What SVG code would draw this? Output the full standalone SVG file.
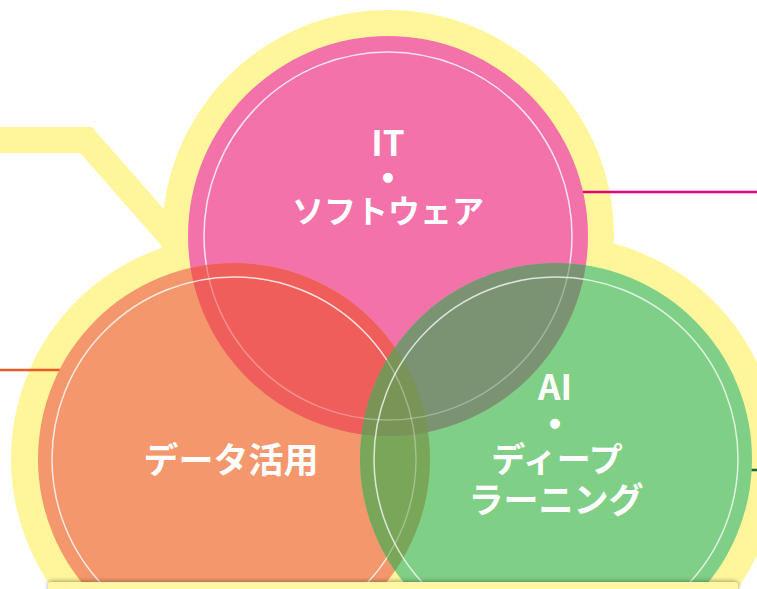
<svg xmlns="http://www.w3.org/2000/svg" width="757" height="589" viewBox="0 0 757 589">
<style>
.y{fill:#fff59b}
.ring{fill:none;stroke:#ffffff;stroke-width:1.5}
.full{stroke-opacity:0.8}
.faint{stroke-opacity:0.3}
.t{font-family:"Noto Sans CJK JP","Noto Sans",sans-serif;font-weight:bold;fill:#ffffff;text-anchor:middle}
.d{font-family:"DejaVu Sans",sans-serif;fill:#ffffff;text-anchor:middle}
</style>
<defs>
<clipPath id="co"><circle cx="234" cy="459" r="196"/></clipPath>
<clipPath id="cg"><circle cx="556" cy="459" r="196"/></clipPath>
<filter id="sh" x="-5%" y="-100%" width="110%" height="300%">
<feDropShadow dx="0" dy="-1" stdDeviation="2" flood-color="#000" flood-opacity="0.35"/>
</filter>
</defs>
<g id="background">
<polyline points="0,140 86,140 172,238" fill="none" stroke="#fff59b" stroke-width="26" stroke-linejoin="miter"/>
<circle class="y" cx="388" cy="236" r="226"/>
<circle class="y" cx="234" cy="459" r="223"/>
<circle class="y" cx="556" cy="459" r="223"/>
</g>
<g id="connectors">
<line x1="480" y1="192" x2="757" y2="192" stroke="#e5007f" stroke-width="2.5"/>
<line x1="0" y1="370" x2="120" y2="370" stroke="#ea5a24" stroke-width="2.5"/>
<line x1="700" y1="470" x2="757" y2="470" stroke="#17693a" stroke-width="2.5"/>
</g>
<g id="it-software">
<circle cx="388" cy="236" r="200" fill="#f372aa"/>
<circle class="ring full" cx="388" cy="236" r="184"/>
</g>
<g id="data">
<circle cx="234" cy="459" r="196" fill="#f5976c"/>
<circle cx="388" cy="236" r="200" fill="#ef5e5a" clip-path="url(#co)"/>
<circle class="ring faint" cx="388" cy="236" r="184" clip-path="url(#co)"/>
<circle class="ring full" cx="234" cy="459" r="182"/>
</g>
<g id="ai-deep-learning">
<circle cx="556" cy="459" r="196" fill="#80cf86"/>
<circle cx="234" cy="459" r="196" fill="#7aa65a" clip-path="url(#cg)"/>
<circle cx="388" cy="236" r="200" fill="#7b9373" clip-path="url(#cg)"/>
<g clip-path="url(#cg)"><circle cx="388" cy="236" r="200" fill="#7a9458" clip-path="url(#co)"/></g>
<circle class="ring faint" cx="388" cy="236" r="184" clip-path="url(#cg)"/>
<circle class="ring faint" cx="234" cy="459" r="182" clip-path="url(#cg)"/>
<circle class="ring" cx="556" cy="459" r="182" stroke-opacity="0.75"/>
</g>
<g id="labels">
<text class="t" x="388" y="156" font-size="35">IT</text>
<text class="d" x="388" y="181" font-size="13">●</text>
<text class="t" x="388" y="223" font-size="32">ソフトウェア</text>
<text class="t" x="231" y="473" font-size="35">データ活用</text>
<text class="t" x="555" y="400" font-size="35">AI</text>
<text class="d" x="555" y="427" font-size="13">●</text>
<text class="t" x="557" y="472" font-size="34">ディープ</text>
<text class="t" x="556" y="513" font-size="35">ラーニング</text>
</g>
<g id="bottom-panel">
<rect x="48" y="582" width="690" height="30" rx="4" fill="#fff7a3" filter="url(#sh)"/>
</g>
</svg>
